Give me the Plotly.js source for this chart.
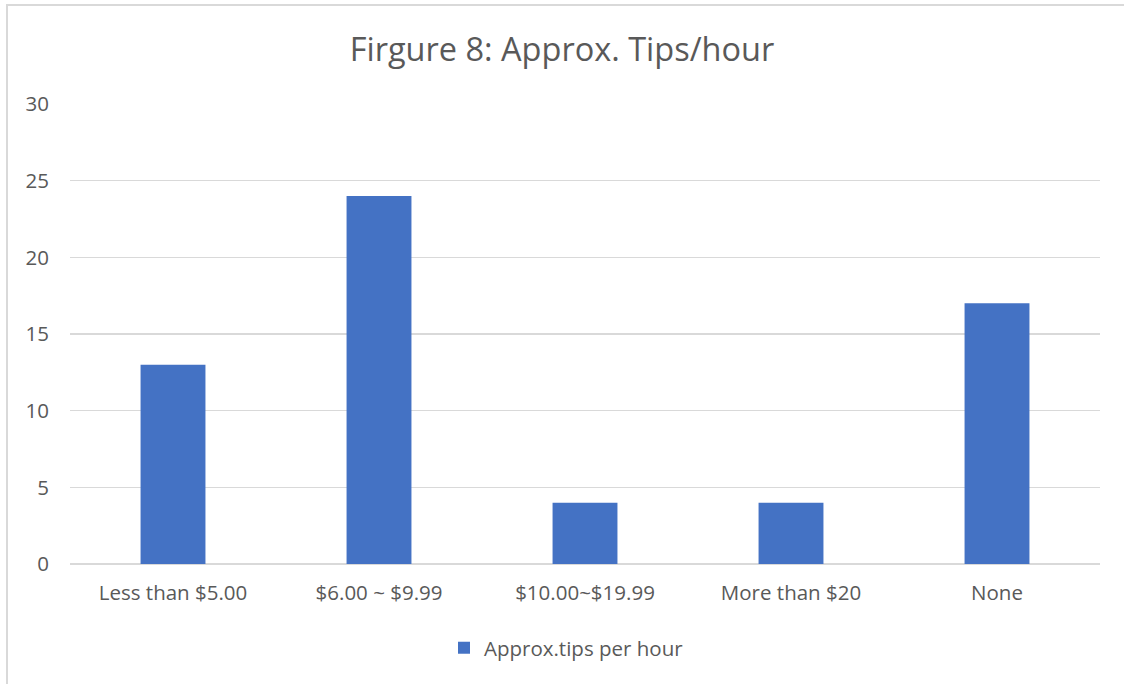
<!DOCTYPE html>
<html>
<head>
<meta charset="utf-8">
<script src="https://cdn.plot.ly/plotly-3.0.1.min.js"></script>
<style>
html,body{margin:0;padding:0;overflow:hidden;background:#fff;}
#chart{position:absolute;left:0;top:0;width:1124px;height:684px;}
#frame{position:absolute;left:6px;top:4px;width:1130px;height:700px;border:2px solid #d9d9d9;box-sizing:border-box;pointer-events:none;z-index:10;}
</style>
</head>
<body>
<div id="chart"></div>
<div id="frame"></div>
<script>
const categories = ["Less than $5.00", "$6.00 ~ $9.99", "$10.00~$19.99", "More than $20", "None"];
const tipsPerHour = [13, 24, 4, 4, 17];
const seriesName = "Approx.tips per hour";
const yTicks = [0, 5, 10, 15, 20, 25, 30];
const chartTitle = "Firgure 8: Approx. Tips/hour";

const font = "Open Sans, Noto Sans, sans-serif";
const textColor = "#595959";

Plotly.newPlot("chart", [{
  type: "bar",
  x: categories,
  y: tipsPerHour,
  name: seriesName,
  marker: {color: "#4472c4"},
  width: 0.315,
  showlegend: true
}], {
  width: 1124,
  height: 684,
  margin: {l: 70, r: 24, t: 103.5, b: 120},
  paper_bgcolor: "#fff",
  plot_bgcolor: "#fff",
  title: {
    text: chartTitle,
    font: {family: font, size: 32.5, color: textColor},
    x: 0.5, xanchor: "center",
    y: 1 - 50/684, yanchor: "middle"
  },
  xaxis: {
    type: "category",
    showgrid: false,
    showline: false,
    ticks: "",
    tickfont: {family: font, size: 20.5, color: textColor},
    ticklabelstandoff: 14
  },
  yaxis: {
    range: [0, 30],
    tickvals: yTicks,
    ticktext: yTicks.map(String),
    showgrid: true,
    gridcolor: "#d9d9d9",
    gridwidth: 1.3,
    zeroline: true,
    zerolinecolor: "#d9d9d9",
    zerolinewidth: 1.3,
    showline: false,
    ticks: "",
    tickfont: {family: font, size: 20.5, color: textColor},
    ticklabelstandoff: 20
  },
  showlegend: true,
  legend: {
    orientation: "h",
    x: (444-70)/1030, xanchor: "left",
    y: -(648-564)/460.5, yanchor: "middle",
    font: {family: font, size: 20.5, color: textColor},
    itemwidth: 30
  }
}, {displayModeBar: false, staticPlot: true});
</script>
</body>
</html>
